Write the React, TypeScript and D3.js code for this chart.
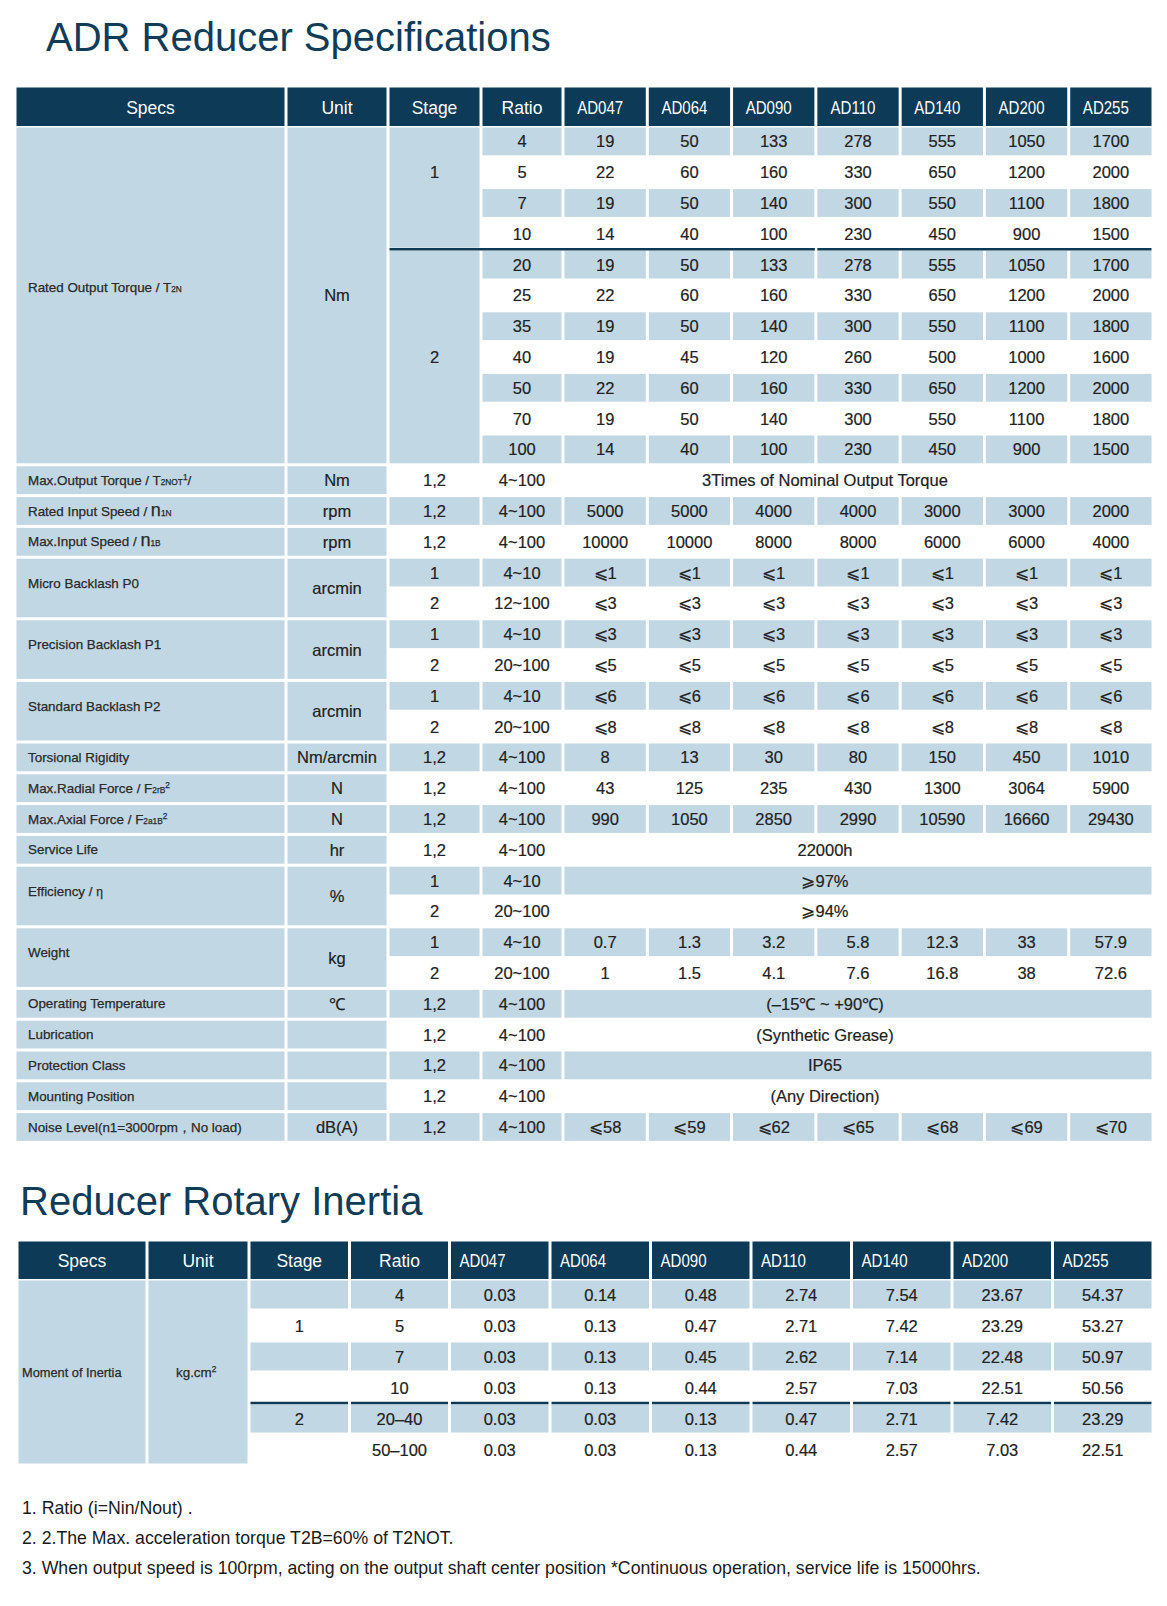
import React from 'react';
import * as d3 from 'd3';

const W = 1167;
const H = 1606;
const NAVY = '#0c3a57';
const LIGHT = '#c1d7e3';
const INK = '#222';
const FONT = '"Liberation Sans", Arial, Helvetica, sans-serif';

// ---- data: specifications table ----
const models = ['AD047', 'AD064', 'AD090', 'AD110', 'AD140', 'AD200', 'AD255'];
const headers = ['Specs', 'Unit', 'Stage', 'Ratio'];

const stage1Ratios = ['4', '5', '7', '10'];
const stage2Ratios = ['20', '25', '35', '40', '50', '70', '100'];
const torqueStage1 = [
  [19, 50, 133, 278, 555, 1050, 1700],
  [22, 60, 160, 330, 650, 1200, 2000],
  [19, 50, 140, 300, 550, 1100, 1800],
  [14, 40, 100, 230, 450, 900, 1500],
];
const torqueStage2 = [
  [19, 50, 133, 278, 555, 1050, 1700],
  [22, 60, 160, 330, 650, 1200, 2000],
  [19, 50, 140, 300, 550, 1100, 1800],
  [19, 45, 120, 260, 500, 1000, 1600],
  [22, 60, 160, 330, 650, 1200, 2000],
  [19, 50, 140, 300, 550, 1100, 1800],
  [14, 40, 100, 230, 450, 900, 1500],
];

const otherStages = ['1,2', '1,2', '1,2', '1', '2', '1', '2', '1', '2', '1,2', '1,2', '1,2', '1,2', '1', '2', '1', '2', '1,2', '1,2', '1,2', '1,2', '1,2'];
const otherRatios = ['4~100', '4~100', '4~100', '4~10', '12~100', '4~10', '20~100', '4~10', '20~100', '4~100', '4~100', '4~100', '4~100', '4~10', '20~100', '4~10', '20~100', '4~100', '4~100', '4~100', '4~100', '4~100'];
const otherValues: (string | (string | number)[])[] = [
  '3Times of Nominal Output Torque',
  [5000, 5000, 4000, 4000, 3000, 3000, 2000],
  [10000, 10000, 8000, 8000, 6000, 6000, 4000],
  ['⩽1', '⩽1', '⩽1', '⩽1', '⩽1', '⩽1', '⩽1'],
  ['⩽3', '⩽3', '⩽3', '⩽3', '⩽3', '⩽3', '⩽3'],
  ['⩽3', '⩽3', '⩽3', '⩽3', '⩽3', '⩽3', '⩽3'],
  ['⩽5', '⩽5', '⩽5', '⩽5', '⩽5', '⩽5', '⩽5'],
  ['⩽6', '⩽6', '⩽6', '⩽6', '⩽6', '⩽6', '⩽6'],
  ['⩽8', '⩽8', '⩽8', '⩽8', '⩽8', '⩽8', '⩽8'],
  [8, 13, 30, 80, 150, 450, 1010],
  [43, 125, 235, 430, 1300, 3064, 5900],
  [990, 1050, 2850, 2990, 10590, 16660, 29430],
  '22000h',
  '⩾97%',
  '⩾94%',
  [0.7, 1.3, 3.2, 5.8, 12.3, 33, 57.9],
  [1, 1.5, 4.1, 7.6, 16.8, 38, 72.6],
  '(–15℃ ~ +90℃)',
  '(Synthetic Grease)',
  'IP65',
  '(Any Direction)',
  ['⩽58', '⩽59', '⩽62', '⩽65', '⩽68', '⩽69', '⩽70'],
];

type Seg = string | [string, 'sub' | 'sup' | 'big' | 'small'];
const specLabels: Seg[][] = [
  ['Rated Output Torque / T', ['2N', 'sub']],
  ['Max.Output Torque / T', ['2NOT', 'sub'], ['1', 'sup'], '/'],
  ['Rated Input Speed / ', ['n', 'big'], ['1N', 'sub']],
  ['Max.Input Speed / ', ['n', 'big'], ['1B', 'sub']],
  ['Micro Backlash P0'],
  ['Precision Backlash P1'],
  ['Standard Backlash P2'],
  ['Torsional Rigidity'],
  ['Max.Radial Force / F', ['2rB', 'sub'], ['2', 'sup']],
  ['Max.Axial Force / F', ['2a1B', 'sub'], ['2', 'sup']],
  ['Service Life'],
  ['Efficiency /  ', ['η', 'small']],
  ['Weight'],
  ['Operating Temperature'],
  ['Lubrication'],
  ['Protection Class'],
  ['Mounting Position'],
  ['Noise Level(n1=3000rpm，No load)'],
];
const specUnits = ['Nm', 'Nm', 'rpm', 'rpm', 'arcmin', 'arcmin', 'arcmin', 'Nm/arcmin', 'N', 'N', 'hr', '%', 'kg', '℃', '', '', '', 'dB(A)'];
const specSpans = [11, 1, 1, 1, 2, 2, 2, 1, 1, 1, 1, 2, 2, 1, 1, 1, 1, 1];

// ---- data: rotary inertia table ----
const inertiaStages = ['', '1', '', '', '2', ''];
const inertiaRatios = ['4', '5', '7', '10', '20–40', '50–100'];
const inertiaValues = [
  [0.03, 0.14, 0.48, 2.74, 7.54, 23.67, 54.37],
  [0.03, 0.13, 0.47, 2.71, 7.42, 23.29, 53.27],
  [0.03, 0.13, 0.45, 2.62, 7.14, 22.48, 50.97],
  [0.03, 0.13, 0.44, 2.57, 7.03, 22.51, 50.56],
  [0.03, 0.03, 0.13, 0.47, 2.71, 7.42, 23.29],
  [0.03, 0.03, 0.13, 0.44, 2.57, 7.03, 22.51],
];

const footnotes = [
  '1. Ratio (i=Nin/Nout) .',
  '2. 2.The Max. acceleration torque T2B=60% of T2NOT.',
  '3. When output speed is 100rpm, acting on the output shaft center position *Continuous operation, service life is 15000hrs.',
];

type Row = { stage: string; ratio: string; cells?: (string | number)[]; merged?: string };

const rows1: Row[] = [
  ...stage1Ratios.map((r, i) => ({ stage: i === 1 ? '1' : '', ratio: r, cells: torqueStage1[i] })),
  ...stage2Ratios.map((r, i) => ({ stage: i === 3 ? '2' : '', ratio: r, cells: torqueStage2[i] })),
  ...otherValues.map((v, i) => (typeof v === 'string'
    ? { stage: otherStages[i], ratio: otherRatios[i], merged: v }
    : { stage: otherStages[i], ratio: otherRatios[i], cells: v })),
];

const fmt = (v: string | number) => (typeof v === 'number' ? String(v) : v);

const RichText = ({ x, y, segs, size }: { x: number; y: number; segs: Seg[]; size: number }) => {
  let raised = false;
  return (
    <text x={x} y={y} fontSize={size} fill="#2a2a2a" stroke="#2a2a2a" strokeWidth={0.25}>
      {segs.map((s, i) => {
        const [t, kind] = typeof s === 'string' ? [s, 'n'] : s;
        let dy = 0;
        if (kind === 'sup' && !raised) { dy = -5; raised = true; }
        else if (kind !== 'sup' && raised) { dy = 5; raised = false; }
        const fs = kind === 'sub' || kind === 'sup' ? size * 0.62
          : kind === 'big' ? size * 1.35 : kind === 'small' ? size * 0.9 : undefined;
        return <tspan key={i} dy={dy || undefined} fontSize={fs}>{t}</tspan>;
      })}
    </text>
  );
};

const Cell = ({ x, y, w, h, fill }: { x: number; y: number; w: number; h: number; fill: string }) => (
  <rect x={x + 1.5} y={y + 1.5} width={w - 3} height={h - 3} fill={fill} />
);

const Val = ({ x, y, children }: { x: number; y: number; children: React.ReactNode }) => (
  <text x={x} y={y} fontSize={16.5} fill={INK} stroke={INK} strokeWidth={0.2} textAnchor="middle">{children}</text>
);

const Table1 = () => {
  const left = 15;
  const widths = [271, 102, 93, 82];
  const edges = d3.cumsum([left, ...widths]);
  const right = 1153;
  const xM = d3.scaleBand<string>().domain(models).range([edges[4], right]);
  const headTop = 86;
  const bodyTop = 126;
  const rowH = 30.8;
  const y = d3.scaleBand<number>().domain(d3.range(rows1.length)).range([bodyTop, bodyTop + rows1.length * rowH]);
  const bw = xM.bandwidth();
  const starts = d3.cumsum([0, ...specSpans]);
  const headY = (headTop + bodyTop) / 2 + 8;

  return (
    <g>
      {/* header */}
      {headers.map((h, i) => (
        <g key={h}>
          <Cell x={edges[i]} y={headTop} w={widths[i]} h={bodyTop - headTop + 1.5} fill={NAVY} />
          <text x={edges[i] + widths[i] / 2} y={headY} fill="#fff" fontSize={17.5} textAnchor="middle">{h}</text>
        </g>
      ))}
      {models.map((m) => (
        <g key={m}>
          <Cell x={xM(m)!} y={headTop} w={bw} h={bodyTop - headTop + 1.5} fill={NAVY} />
          <text transform={`translate(${xM(m)! + bw / 2 - 5},${headY}) scale(0.86,1)`} fill="#fff" fontSize={17.5} textAnchor="middle">{m}</text>
        </g>
      ))}

      {/* spec + unit columns */}
      {specLabels.map((segs, g) => {
        const y0 = y(starts[g])!;
        const y1 = y(starts[g] + specSpans[g] - 1)! + rowH;
        const mid = (y0 + y1) / 2;
        const lift = specSpans[g] > 1 ? 4 + specSpans[g] * 0.4 : 0;
        return (
          <g key={g}>
            <Cell x={edges[0]} y={y0} w={widths[0]} h={y1 - y0} fill={LIGHT} />
            <Cell x={edges[1]} y={y0} w={widths[1]} h={y1 - y0} fill={LIGHT} />
            <RichText x={edges[0] + 13} y={mid + 4.5 - lift} segs={segs} size={13.4} />
            <Val x={edges[1] + widths[1] / 2} y={mid + 6}>{specUnits[g]}</Val>
          </g>
        );
      })}

      {/* stage blocks for torque */}
      <Cell x={edges[2]} y={y(0)!} w={widths[2]} h={rowH * stage1Ratios.length} fill={LIGHT} />
      <Cell x={edges[2]} y={y(stage1Ratios.length)!} w={widths[2]} h={rowH * stage2Ratios.length} fill={LIGHT} />

      {rows1.map((r, i) => {
        const yy = y(i)!;
        const blue = i % 2 === 0;
        const torque = i < stage1Ratios.length + stage2Ratios.length;
        const cy = yy + rowH / 2 + 6;
        return (
          <g key={i}>
            {blue && !torque && <Cell x={edges[2]} y={yy} w={widths[2]} h={rowH} fill={LIGHT} />}
            {blue && <Cell x={edges[3]} y={yy} w={widths[3]} h={rowH} fill={LIGHT} />}
            {blue && r.cells && models.map((m) => <Cell key={m} x={xM(m)!} y={yy} w={bw} h={rowH} fill={LIGHT} />)}
            {blue && r.merged && <Cell x={edges[4]} y={yy} w={right - edges[4]} h={rowH} fill={LIGHT} />}
            <Val x={edges[2] + widths[2] / 2} y={cy}>{r.stage}</Val>
            <Val x={edges[3] + widths[3] / 2} y={cy}>{r.ratio}</Val>
            {r.cells && r.cells.map((v, j) => (
              <Val key={j} x={xM(models[j])! + bw / 2} y={cy}>{fmt(v)}</Val>
            ))}
            {r.merged && <Val x={(edges[4] + right) / 2 - 33} y={cy}>{r.merged}</Val>}
          </g>
        );
      })}

      {/* stage separator */}
      <line x1={edges[2] + 1.5} x2={xM('AD110')! - 1} y1={y(stage1Ratios.length)!} y2={y(stage1Ratios.length)!} stroke={NAVY} strokeWidth={2.5} />
      <line x1={xM('AD110')! + 1.5} x2={right - 1.5} y1={y(stage1Ratios.length)!} y2={y(stage1Ratios.length)!} stroke={NAVY} strokeWidth={2.5} />
    </g>
  );
};

const Table2 = () => {
  const left = 17;
  const widths = [130, 102, 100.5, 100];
  const edges = d3.cumsum([left, ...widths]);
  const right = 1153;
  const xM = d3.scaleBand<string>().domain(models).range([edges[4], right]);
  const headTop = 1240;
  const bodyTop = 1279;
  const rowH = 31;
  const y = d3.scaleBand<number>().domain(d3.range(inertiaRatios.length)).range([bodyTop, bodyTop + inertiaRatios.length * rowH]);
  const bw = xM.bandwidth();
  const bodyBottom = bodyTop + inertiaRatios.length * rowH;
  const mid = (bodyTop + bodyBottom) / 2;
  const headY = (headTop + bodyTop) / 2 + 7;

  return (
    <g>
      {headers.map((h, i) => (
        <g key={h}>
          <Cell x={edges[i]} y={headTop} w={widths[i]} h={bodyTop - headTop + 1.5} fill={NAVY} />
          <text x={edges[i] + widths[i] / 2} y={headY} fill="#fff" fontSize={17.5} textAnchor="middle">{h}</text>
        </g>
      ))}
      {models.map((m) => (
        <g key={m}>
          <Cell x={xM(m)!} y={headTop} w={bw} h={bodyTop - headTop + 1.5} fill={NAVY} />
          <text transform={`translate(${xM(m)! + 10},${headY}) scale(0.86,1)`} fill="#fff" fontSize={17.5}>{m}</text>
        </g>
      ))}

      <Cell x={edges[0]} y={bodyTop} w={widths[0]} h={bodyBottom - bodyTop} fill={LIGHT} />
      <Cell x={edges[1]} y={bodyTop} w={widths[1]} h={bodyBottom - bodyTop} fill={LIGHT} />
      <RichText x={edges[0] + 5} y={mid + 4.5} segs={['Moment of Inertia']} size={12.8} />
      <RichText x={edges[1] + widths[1] / 2 - 22} y={mid + 4.5} segs={['kg.cm', ['2', 'sup']]} size={13.4} />

      {inertiaRatios.map((r, i) => {
        const yy = y(i)!;
        const blue = i % 2 === 0;
        const cy = yy + rowH / 2 + 6;
        return (
          <g key={r}>
            {blue && [2, 3].map((c) => <Cell key={c} x={edges[c]} y={yy} w={widths[c]} h={rowH} fill={LIGHT} />)}
            {blue && models.map((m) => <Cell key={m} x={xM(m)!} y={yy} w={bw} h={rowH} fill={LIGHT} />)}
            <Val x={edges[2] + widths[2] / 2} y={cy}>{inertiaStages[i]}</Val>
            <Val x={edges[3] + widths[3] / 2} y={cy}>{r}</Val>
            {inertiaValues[i].map((v, j) => (
              <Val key={j} x={xM(models[j])! + bw / 2} y={cy}>{v.toFixed(2)}</Val>
            ))}
          </g>
        );
      })}

      {/* stage separator, one segment per cell */}
      {[{ x: edges[2], w: widths[2] }, { x: edges[3], w: widths[3] }, ...models.map((m) => ({ x: xM(m)!, w: bw }))].map((c, i) => (
        <line key={i} x1={c.x + 1.5} x2={c.x + c.w - 1.5} y1={y(4)!} y2={y(4)!} stroke={NAVY} strokeWidth={2.5} />
      ))}
    </g>
  );
};

export default function App() {
  return (
    <svg width={W} height={H} viewBox={`0 0 ${W} ${H}`} style={{ position: 'absolute', left: 0, top: 0, background: '#fff' }} fontFamily={FONT}>
      <rect width={W} height={H} fill="#fff" />
      <text x={46} y={51} fontSize={40} fill="#103c58">ADR Reducer Specifications</text>
      <Table1 />
      <text x={20} y={1215} fontSize={40} fill="#103c58">Reducer Rotary Inertia</text>
      <Table2 />
      {footnotes.map((f, i) => (
        <text key={i} x={22} y={1514 + i * 30} fontSize={17.7} fill="#1a1a1a">{f}</text>
      ))}
    </svg>
  );
}
